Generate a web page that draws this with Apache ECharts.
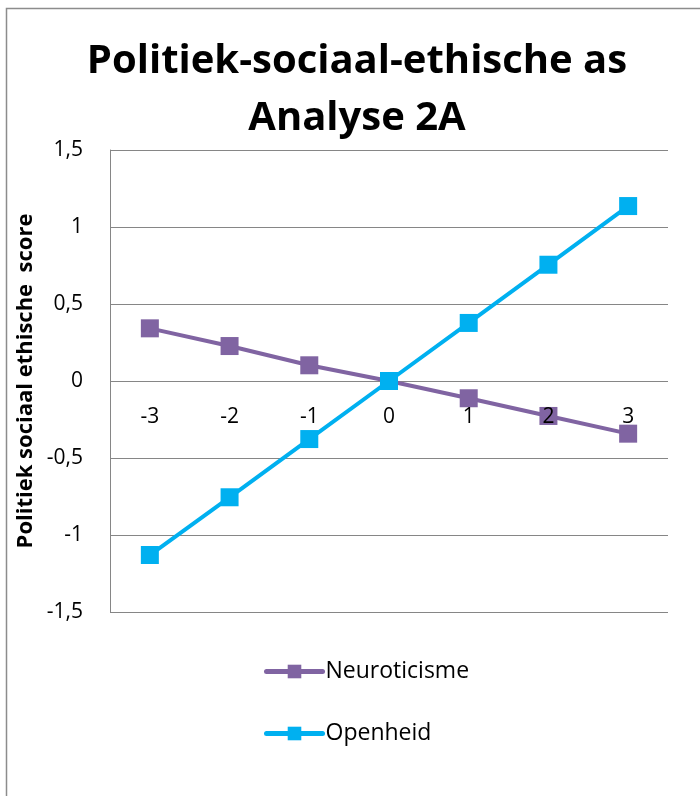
<!DOCTYPE html>
<html>
<head>
<meta charset="utf-8">
<script src="https://cdn.jsdelivr.net/npm/echarts@6/dist/echarts.min.js"></script>
<style>
html,body{margin:0;padding:0;background:#fff;}
#chart{width:700px;height:796px;}
</style>
</head>
<body>
<div id="chart"></div>
<script>
const categories = ['-3', '-2', '-1', '0', '1', '2', '3'];
const neuroticisme = [0.342, 0.227, 0.102, 0, -0.112, -0.227, -0.342];
const openheid = [-1.13, -0.755, -0.377, 0, 0.377, 0.755, 1.136];
const seriesNames = ['Neuroticisme', 'Openheid'];
const titleText = 'Politiek-sociaal-ethische as\nAnalyse 2A';
const yAxisName = 'Politiek sociaal ethische  score';

const FONT = '"Open Sans", "Noto Sans", sans-serif';
const chart = echarts.init(document.getElementById('chart'), null, {renderer: 'canvas'});
chart.setOption({
  backgroundColor: '#fff',
  animation: false,
  graphic: [{
    type: 'rect',
    shape: {x: 6.5, y: 8.5, width: 900, height: 900},
    style: {fill: 'none', stroke: '#8c8c8c', lineWidth: 1.5},
    silent: true
  }],
  title: {
    text: titleText,
    left: 357,
    textAlign: 'center',
    top: 33,
    padding: 0,
    textStyle: {fontFamily: FONT, fontWeight: 'bold', fontSize: 40, lineHeight: 57, color: '#000'}
  },
  legend: {
    orient: 'vertical',
    left: 264,
    top: 660,
    padding: 0,
    itemWidth: 56,
    itemHeight: 17,
    itemGap: 39,
    data: seriesNames,
    lineStyle: {width: 5, cap: 'round'},
    textStyle: {fontFamily: FONT, fontSize: 23, color: '#000', padding: [0, 0, 0, -2]}
  },
  grid: {left: 110, right: 32, top: 150, bottom: 184, containLabel: false},
  xAxis: {
    type: 'category',
    data: categories,
    boundaryGap: true,
    offset: -232,
    z: 10,
    axisLine: {show: false, onZero: false},
    axisTick: {show: false},
    axisLabel: {fontFamily: FONT, fontSize: 21, color: '#000', margin: 27},
    splitLine: {show: false}
  },
  yAxis: {
    type: 'value',
    min: -1.5,
    max: 1.5,
    interval: 0.5,
    name: yAxisName,
    nameLocation: 'middle',
    nameGap: 73,
    nameMoveOverlap: false,
    nameTextStyle: {fontFamily: FONT, fontWeight: 'bold', fontSize: 22, color: '#000'},
    axisLine: {show: true, lineStyle: {color: '#868686', width: 1}},
    axisTick: {show: false},
    axisLabel: {
      fontFamily: FONT, fontSize: 21, color: '#000', margin: 27,
      formatter: v => String(Math.round(v * 10) / 10).replace('.', ',')
    },
    splitLine: {show: true, lineStyle: {color: '#868686', width: 1}}
  },
  series: [
    {
      name: seriesNames[0],
      type: 'line',
      data: neuroticisme,
      symbol: 'rect',
      symbolSize: 18,
      lineStyle: {color: '#8064A2', width: 4},
      itemStyle: {color: '#8064A2'},
      z: 3
    },
    {
      name: seriesNames[1],
      type: 'line',
      data: openheid,
      symbol: 'rect',
      symbolSize: 18,
      lineStyle: {color: '#00B0F0', width: 4},
      itemStyle: {color: '#00B0F0'},
      z: 4
    }
  ]
});
</script>
</body>
</html>
